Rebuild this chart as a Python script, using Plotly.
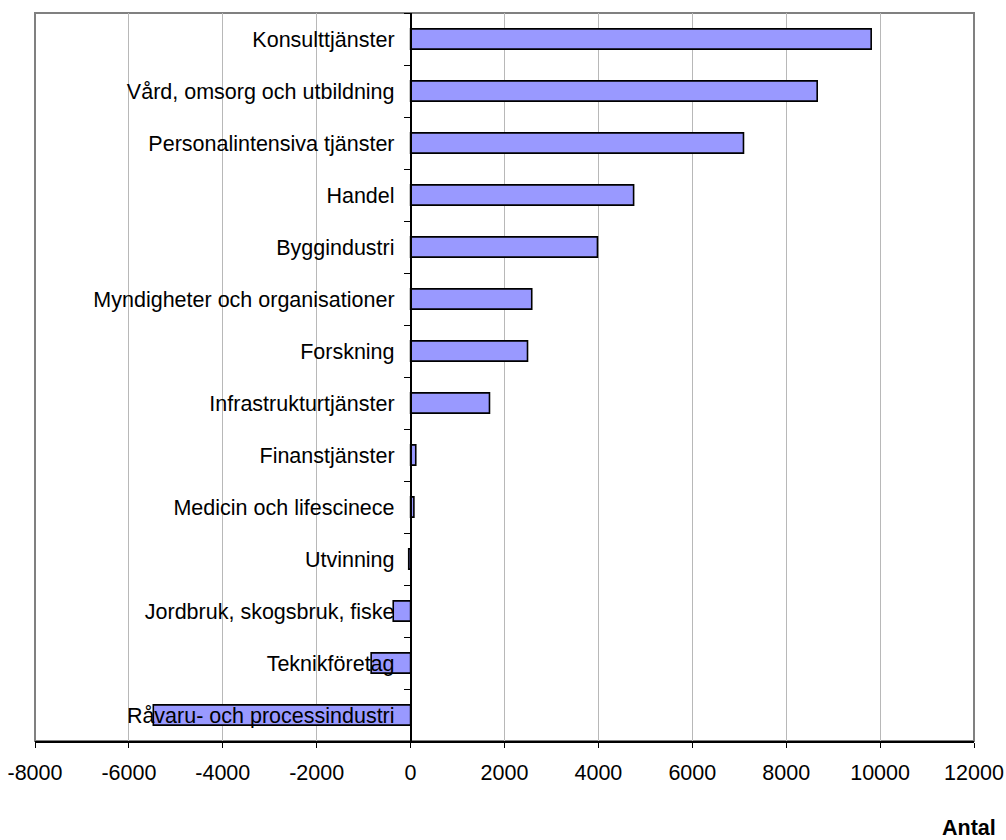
import plotly.graph_objects as go

categories = [
    "Konsulttjänster",
    "Vård, omsorg och utbildning",
    "Personalintensiva tjänster",
    "Handel",
    "Byggindustri",
    "Myndigheter och organisationer",
    "Forskning",
    "Infrastrukturtjänster",
    "Finanstjänster",
    "Medicin och lifescinece",
    "Utvinning",
    "Jordbruk, skogsbruk, fiske",
    "Teknikföretag",
    "Råvaru- och processindustri",
]
values = [9810, 8660, 7090, 4750, 3980, 2580, 2490, 1680, 110, 70, -40, -370, -840, -5480]

x_ticks = list(range(-8000, 12001, 2000))

FONT = "Liberation Sans, Arial, sans-serif"
FS = 21.5

fig = go.Figure()
fig.add_trace(go.Bar(
    y=categories,
    x=values,
    orientation="h",
    width=0.39,
    marker=dict(color="#9999FF", line=dict(color="black", width=1.6)),
    hoverinfo="x+y",
))

fig.update_layout(
    width=1006,
    height=840,
    margin=dict(l=35, r=32, t=13, b=99, autoexpand=False),
    paper_bgcolor="white",
    plot_bgcolor="white",
    showlegend=False,
    font=dict(family=FONT, size=FS, color="black"),
    xaxis=dict(
        range=[-8000, 12000],
        tickvals=x_ticks,
        ticktext=[str(v) for v in x_ticks],
        showgrid=True,
        gridcolor="#B8B8B8",
        gridwidth=1,
        zeroline=False,
        showline=True,
        linecolor="black",
        linewidth=1.5,
        ticks="outside",
        ticklen=5,
        tickcolor="black",
        tickfont=dict(size=FS),
        ticklabelstandoff=6,
    ),
    yaxis=dict(
        type="category",
        categoryorder="array",
        categoryarray=categories,
        autorange="reversed",
        anchor="free",
        position=0.4,
        showgrid=False,
        zeroline=False,
        showline=True,
        linecolor="black",
        linewidth=1.5,
        ticks="outside",
        tickson="boundaries",
        ticklen=6,
        tickcolor="black",
        tickfont=dict(size=FS),
        ticklabelstandoff=11,
    ),
    shapes=[dict(
        type="rect", xref="paper", yref="paper", x0=0, x1=1, y0=0, y1=1,
        line=dict(color="#808080", width=2), layer="below",
    )],
    annotations=[dict(
        text="<b>Antal</b>", xref="paper", yref="paper",
        x=1.0255, y=-0.1195, xanchor="right", yanchor="middle",
        showarrow=False, font=dict(size=FS, family=FONT),
    )],
)

fig.write_html(
    "out.html",
    config={"displayModeBar": False},
    post_script="document.body.style.margin='0';document.body.style.overflow='hidden';",
)
